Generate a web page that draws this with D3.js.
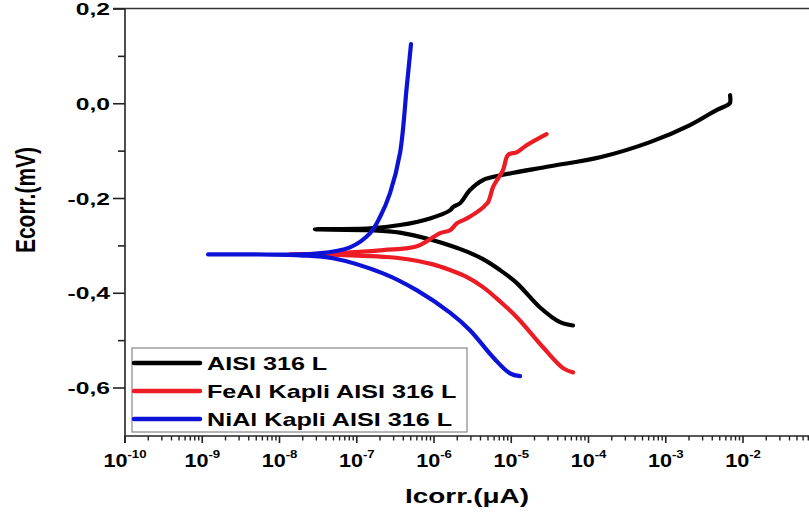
<!DOCTYPE html>
<html>
<head>
<meta charset="utf-8">
<script src="https://cdn.jsdelivr.net/npm/d3@7"></script>
<style>
  body { margin: 0; background: #fff; }
  svg { display: block; font-family: "Liberation Sans", Arial, sans-serif; font-weight: bold; }
</style>
</head>
<body>
<svg id="chart" width="809" height="515"></svg>
<script>
// polarization curves: current (log scale) vs potential
// each curve runs cathodic end -> minimum current -> anodic end
const aisiI = [6.3e-5, 4.28e-5, 2.36e-5, 1.19e-5, 7.14e-6, 4.31e-6, 2.67e-6, 1.61e-6, 9.7e-7, 3.63e-7, 1.62e-7, 2.88e-8,
  1.49e-7, 3.63e-7, 8.87e-7, 1.61e-6, 1.76e-6, 2.17e-6, 2.92e-6, 4.31e-6, 7.82e-6, 3.18e-5, 1.41e-4, 6.25e-4, 2.06e-3, 4.6e-3, 6.4e-3, 6.8e-3, 6.8e-3];
const aisiE = [-0.468, -0.461, -0.430, -0.379, -0.351, -0.328, -0.312, -0.299, -0.288, -0.272, -0.267, -0.265,
  -0.263, -0.256, -0.242, -0.225, -0.218, -0.210, -0.182, -0.161, -0.150, -0.132, -0.113, -0.081, -0.045, -0.013, -0.002, 0.002, 0.018];

const feaiI = [6.3e-5, 4.68e-5, 2.58e-5, 1.19e-5, 7.14e-6, 4.31e-6, 2.67e-6, 1.61e-6, 9.7e-7, 3.63e-7, 2.19e-7, 8.18e-8, 3.05e-8, 1.37e-8,
  3.05e-8, 4.93e-8, 2.19e-7, 6.03e-7, 1.2e-6, 1.61e-6, 1.99e-6, 2.67e-6, 4.31e-6, 4.6e-6, 5.0e-6, 5.31e-6, 5.81e-6, 7.82e-6, 9.08e-6, 1.19e-5, 1.6e-5, 2.86e-5];
const feaiE = [-0.567, -0.558, -0.514, -0.451, -0.417, -0.387, -0.366, -0.351, -0.339, -0.326, -0.323, -0.320, -0.318, -0.318,
  -0.317, -0.316, -0.309, -0.301, -0.273, -0.267, -0.252, -0.242, -0.219, -0.214, -0.208, -0.197, -0.176, -0.140, -0.108, -0.102, -0.087, -0.064];

const niaiI = [1.3e-5, 9.64e-6, 5.81e-6, 2.92e-6, 1.61e-6, 6.03e-7, 2.19e-7, 4.93e-8, 1.84e-8, 4.15e-9, 1.19e-9,
  4.15e-9, 3.05e-8, 8.18e-8, 1.49e-7, 2.0e-7, 2.69e-7, 3.63e-7, 4.44e-7, 5.04e-7];
const niaiE = [-0.575, -0.569, -0.535, -0.478, -0.441, -0.394, -0.358, -0.326, -0.320, -0.318, -0.318,
  -0.318, -0.316, -0.303, -0.273, -0.239, -0.189, -0.104, 0.036, 0.126];

const seriesNames = ['AISI 316 L', 'FeAl Kapli AISI 316 L', 'NiAl Kapli AISI 316 L'];
const seriesColors = ['#000000', '#ec1c24', '#0c12d6'];
const seriesI = [aisiI, feaiI, niaiI];
const seriesE = [aisiE, feaiE, niaiE];

const yTicks = [0.2, 0.0, -0.2, -0.4, -0.6];
const yTickLabels = ['0,2', '0,0', '-0,2', '-0,4', '-0,6'];
const yMinorTicks = [0.1, -0.1, -0.3, -0.5];
const xTickExps = [-10, -9, -8, -7, -6, -5, -4, -3, -2];

const svg = d3.select('#chart');
const width = 809;

const x = d3.scaleLog().domain([1e-10, 1e-1]).range([125, 820.25]);
const y = d3.scaleLinear().domain([-0.7, 0.2]).range([435.4, 9]);

// frame / axes lines
svg.append('line').attr('x1', 113).attr('x2', width).attr('y1', 8.5).attr('y2', 8.5)
  .attr('stroke', '#333').attr('stroke-width', 1.6);
svg.append('line').attr('x1', 125).attr('x2', 125).attr('y1', 9).attr('y2', 443)
  .attr('stroke', '#222').attr('stroke-width', 1.6);
svg.append('line').attr('x1', 125).attr('x2', width).attr('y1', 436).attr('y2', 436)
  .attr('stroke', '#222').attr('stroke-width', 1.6);

// y ticks
svg.selectAll('.ytick').data(yTicks).enter().append('line')
  .attr('x1', 113).attr('x2', 125)
  .attr('y1', d => y(d)).attr('y2', d => y(d))
  .attr('stroke', '#222').attr('stroke-width', 1.6);
svg.selectAll('.yminor').data(yMinorTicks).enter().append('line')
  .attr('x1', 118).attr('x2', 125)
  .attr('y1', d => y(d)).attr('y2', d => y(d))
  .attr('stroke', '#222').attr('stroke-width', 1.6);
svg.selectAll('.ylab').data(yTicks).enter().append('text')
  .attr('transform', d => `translate(110,${y(d) + 6}) scale(1.45,1)`)
  .attr('text-anchor', 'end')
  .attr('font-size', 17)
  .text((d, i) => yTickLabels[i]);

// x ticks
const majors = xTickExps.concat([-1]).map(e => Math.pow(10, e));
const minors = [];
for (let e = -10; e < -1; e++) {
  for (let m = 2; m <= 9; m++) minors.push(m * Math.pow(10, e));
}
svg.selectAll('.xmajor').data(majors).enter().append('line')
  .attr('x1', d => x(d)).attr('x2', d => x(d)).attr('y1', 436).attr('y2', 443)
  .attr('stroke', '#222').attr('stroke-width', 1.6);
svg.selectAll('.xminor').data(minors).enter().append('line')
  .attr('x1', d => x(d)).attr('x2', d => x(d)).attr('y1', 436).attr('y2', 440.5)
  .attr('stroke', '#222').attr('stroke-width', 1.4);
const xl = svg.selectAll('.xlab').data(xTickExps).enter().append('text')
  .attr('transform', d => `translate(${x(Math.pow(10, d))},467) scale(1.2,1)`)
  .attr('text-anchor', 'middle')
  .attr('font-size', 18);
xl.append('tspan').text('10');
xl.append('tspan').attr('dy', -9).attr('font-size', 11).text(d => '-' + Math.abs(d));

// axis titles
svg.append('text')
  .attr('transform', 'translate(467,503) scale(1.33,1)')
  .attr('text-anchor', 'middle').attr('font-size', 21)
  .text('Icorr.(\u03BCA)');
svg.append('text')
  .attr('transform', 'translate(35,200) scale(1.3,1) rotate(-90)')
  .attr('text-anchor', 'middle').attr('font-size', 21)
  .text('Ecorr.(mV)');

// curves
const line = d3.line()
  .x(d => x(d[0]))
  .y(d => y(d[1]))
  .curve(d3.curveCatmullRom.alpha(0.5));

seriesI.forEach((arr, i) => {
  const pts = arr.map((v, j) => [v, seriesE[i][j]]);
  svg.append('path')
    .attr('d', line(pts))
    .attr('fill', 'none')
    .attr('stroke', seriesColors[i])
    .attr('stroke-width', 4.2)
    .attr('stroke-linecap', 'round')
    .attr('stroke-linejoin', 'round');
});

// legend
const lg = svg.append('g');
lg.append('rect').attr('x', 132).attr('y', 348).attr('width', 335).attr('height', 84)
  .attr('fill', '#fff').attr('stroke', '#888').attr('stroke-width', 1.2);
const rowY = [363, 391, 419];
seriesNames.forEach((name, i) => {
  lg.append('line').attr('x1', 134).attr('x2', 200).attr('y1', rowY[i]).attr('y2', rowY[i])
    .attr('stroke', seriesColors[i]).attr('stroke-width', 4.5).attr('stroke-linecap', 'round');
  lg.append('text')
    .attr('transform', `translate(207,${rowY[i] + 7}) scale(1.36,1)`)
    .attr('font-size', 18.5)
    .text(name);
});
</script>
</body>
</html>
